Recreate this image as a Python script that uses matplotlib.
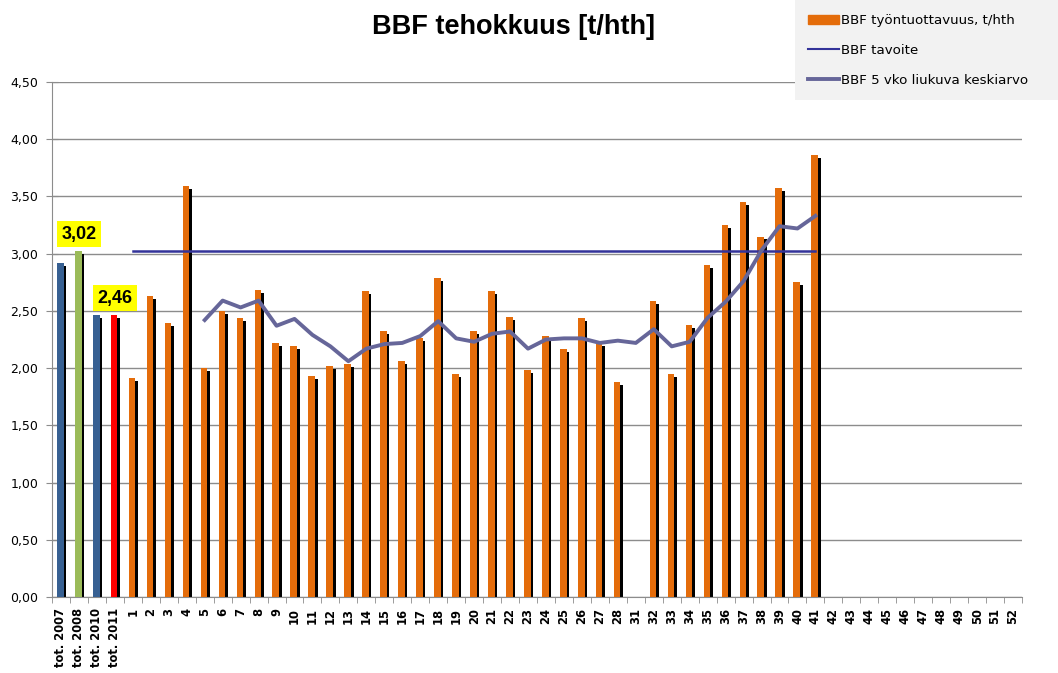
import numpy as np
import matplotlib
matplotlib.use('Agg')
import matplotlib.pyplot as plt
from matplotlib.patches import Rectangle, Patch
from matplotlib.lines import Line2D

plt.rcParams['font.family'] = ['DejaVu Sans']

# data
nan = np.nan
tot_labels = ['tot. 2007', 'tot. 2008', 'tot. 2010', 'tot. 2011']
tot_values = [2.92, 3.02, 2.46, 2.46]
tot_colors = ['#376092', '#9BBB59', '#376092', '#FF0000']

week_labels = [str(w) for w in list(range(1, 29)) + [31] + list(range(32, 53))]
week_values = [1.91, 2.63, 2.39, 3.59, 2.00, 2.50, 2.44, 2.68, 2.22, 2.19,
               1.93, 2.02, 2.04, 2.67, 2.32, 2.06, 2.26, 2.79, 1.95, 2.32,
               2.67, 2.45, 1.98, 2.28, 2.17, 2.44, 2.22, 1.88,
               nan,
               2.59, 1.95, 2.38, 2.90, 3.25, 3.45, 3.15, 3.57, 2.75, 3.86,
               nan, nan, nan, nan, nan, nan, nan, nan, nan, nan, nan]

# 5 week moving average, weeks 5..41 (incl. 31)
mov_avg = [2.42, 2.59, 2.53, 2.59, 2.37, 2.43, 2.29, 2.19, 2.06, 2.17,
           2.21, 2.22, 2.28, 2.41, 2.26, 2.23, 2.30, 2.32, 2.17, 2.25,
           2.26, 2.26, 2.22, 2.24, 2.22, 2.34, 2.19, 2.23, 2.44, 2.58,
           2.76, 3.03, 3.24, 3.22, 3.33]
target = 3.02

labels = tot_labels + week_labels
values = np.array(tot_values + week_values)
colors = tot_colors + ['#E46C0A'] * len(week_labels)
x = np.arange(len(labels))

# target from week 1 to week 41, moving average from week 5 to week 41
n_tot = len(tot_labels)
i41 = labels.index('41')
target_line = np.full(len(labels), nan)
target_line[n_tot:i41 + 1] = target
avg_line = np.full(len(labels), nan)
avg_line[i41 + 1 - len(mov_avg):i41 + 1] = mov_avg

fig = plt.figure(figsize=(10.58, 6.73), dpi=100)
ax = fig.add_axes([52 / 1058, 1 - 597 / 673, 970 / 1058, 515 / 673])

bw = 0.37
ax.bar(x + 0.1, values - 0.026, width=bw, color='black', zorder=2)
ax.bar(x - 0.04, values, width=bw, color=colors, zorder=3)
ax.plot(x, target_line, color='#333399', lw=1.8, zorder=4)
ax.plot(x, avg_line, color='#666699', lw=2.8, zorder=5)

for lab in ['tot. 2008', 'tot. 2011']:
    i = labels.index(lab)
    ax.annotate(('%.2f' % values[i]).replace('.', ','), (x[i], values[i]),
                xytext=(0, 12.5), textcoords='offset points', ha='center',
                va='center', fontsize=13, fontweight='bold', zorder=6,
                family='Liberation Sans',
                bbox=dict(boxstyle='square,pad=0.25', fc='#FFFF00', ec='none'))

ax.set_xlim(-0.5, len(labels) - 0.5)
ax.set_ylim(0, 4.5)
yt = np.arange(0, 4.51, 0.5)
ax.set_yticks(yt)
ax.set_yticklabels([('%.2f' % v).replace('.', ',') for v in yt], fontsize=9)
ax.yaxis.grid(True, color='#8C8C8C', lw=1)
ax.set_axisbelow(True)

ax.set_xticks(x)
ax.set_xticklabels(labels, rotation=90, fontsize=8.3, fontweight='bold')
ax.tick_params(axis='x', which='major', length=0, pad=8)
ax.set_xticks(np.arange(-0.5, len(labels), 1), minor=True)
ax.tick_params(axis='x', which='minor', length=4, color='#8C8C8C')
ax.tick_params(axis='y', length=8, direction='inout', color='#8C8C8C', pad=6)

for s in ['top', 'right']:
    ax.spines[s].set_visible(False)
for s in ['left', 'bottom']:
    ax.spines[s].set_color('#8C8C8C')

fig.text(514 / 1058, 1 - 27 / 673, 'BBF tehokkuus [t/hth]', ha='center',
         va='center', fontsize=19.5, fontweight='bold', family='Liberation Sans')

# legend box
fig.patches.append(Rectangle((795 / 1058, 1 - 100 / 673), 263 / 1058, 100 / 673,
                             transform=fig.transFigure, fc='#F2F2F2', ec='none', zorder=10))
handles = [Patch(color='#E46C0A'),
           Line2D([], [], color='#333399', lw=1.5),
           Line2D([], [], color='#666699', lw=2.8)]
leg = fig.legend(handles, ['BBF työntuottavuus, t/hth', 'BBF tavoite', 'BBF 5 vko liukuva keskiarvo'],
                 loc='upper left', bbox_to_anchor=(799 / 1058, 1 - 5 / 673), frameon=False,
                 fontsize=9.6, handlelength=2.3, handletextpad=0.15, labelspacing=1.25,
                 borderpad=0.2)
leg.set_zorder(11)

fig.savefig('out.png', dpi=100)
